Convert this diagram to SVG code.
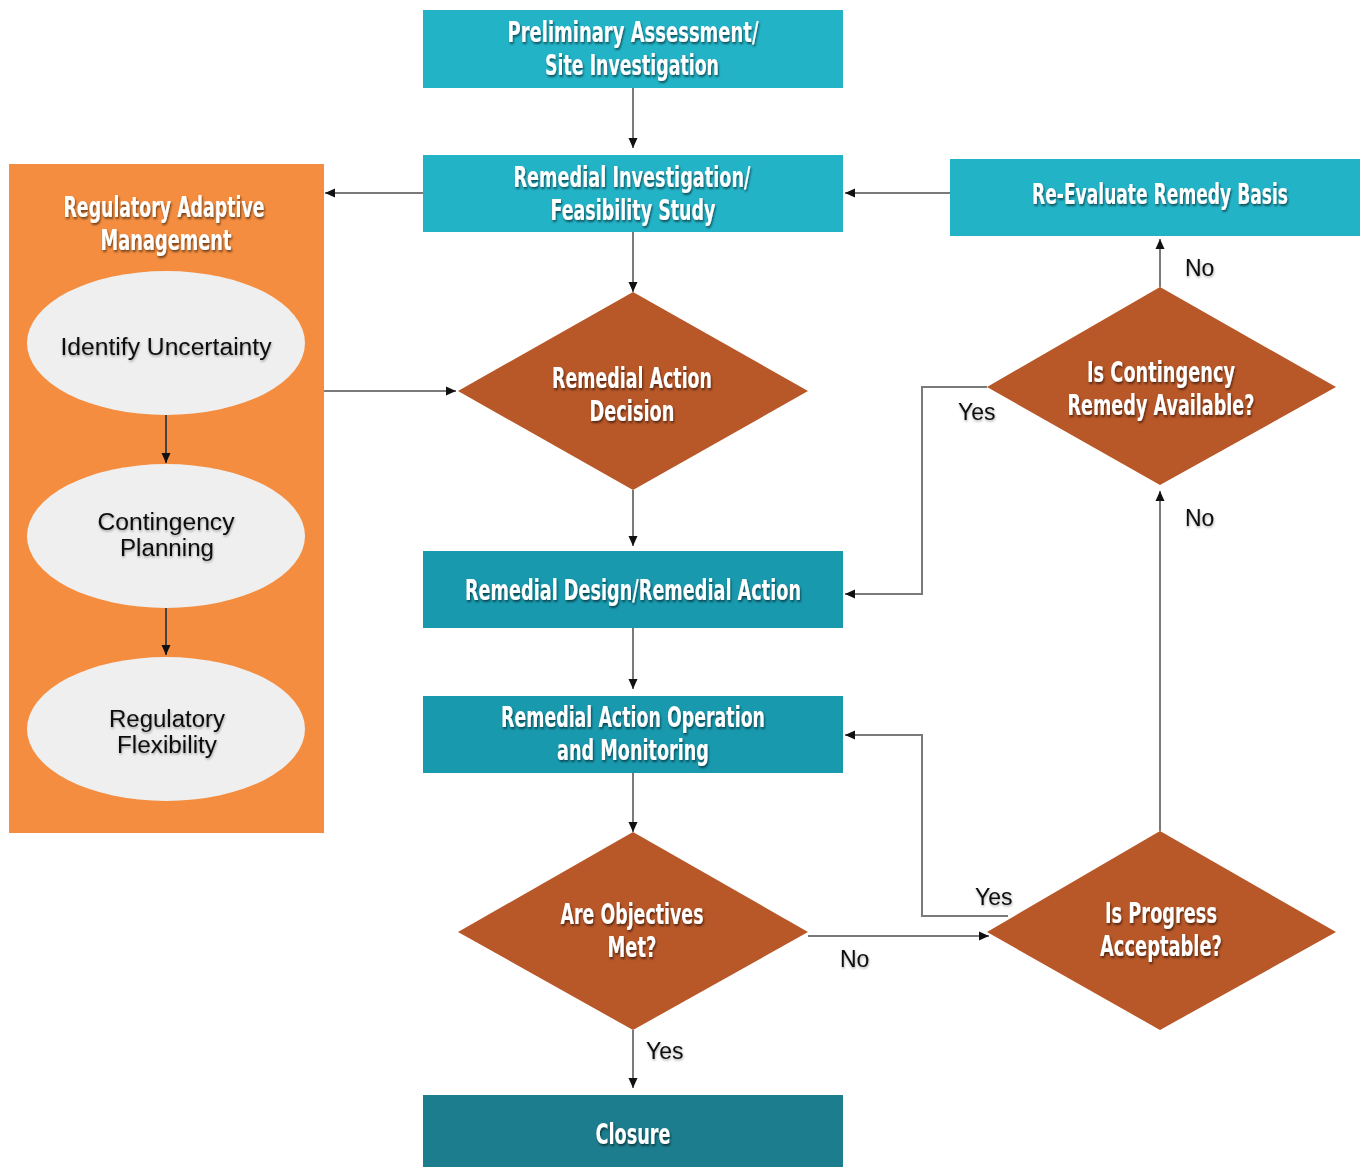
<svg xmlns="http://www.w3.org/2000/svg" width="1360" height="1167" viewBox="0 0 1360 1167">
<defs>
<style>
.bx{fill:#23b3c7}
.bx2{fill:#1899ae}
.bx3{fill:#1b7d8d}
.dm{fill:#b85728}
.el{fill:#efefef}
.pn{fill:#f48d3f}
.t{font-family:"Liberation Sans Narrow","DejaVu Sans Condensed","Liberation Sans",sans-serif;font-weight:bold;font-size:28px;fill:#fff;text-anchor:middle;filter:url(#sh)}
.e{font-family:"Liberation Sans",Arial,sans-serif;font-size:23px;fill:#111;text-anchor:middle;filter:url(#sh2)}
.lb{font-family:"Liberation Sans",Arial,sans-serif;font-size:23px;fill:#111;filter:url(#sh2)}
.c{fill:none;stroke:#7a7a7a;stroke-width:2}
.ca{fill:none;stroke:#444;stroke-width:2}
</style>
<filter id="sh" x="-10%" y="-30%" width="120%" height="160%">
<feDropShadow dx="1" dy="2" stdDeviation="1" flood-color="#000" flood-opacity="0.55"/>
</filter>
<filter id="sh2" x="-10%" y="-30%" width="120%" height="160%">
<feDropShadow dx="0.5" dy="1.5" stdDeviation="1" flood-color="#000" flood-opacity="0.35"/>
</filter>
<marker id="ah" viewBox="0 0 10 10" refX="10" refY="5" markerWidth="10" markerHeight="10" markerUnits="userSpaceOnUse" orient="auto">
<path d="M0,0.5 L10,5 L0,9.5 z" fill="#111"/>
</marker>
</defs>
<rect width="1360" height="1167" fill="#fff"/>

<g id="n-pa">
<rect class="bx" x="423" y="10" width="420" height="78"/>
<text class="t" x="633" y="42" textLength="251" lengthAdjust="spacingAndGlyphs">Preliminary Assessment/</text>
<text class="t" x="632" y="75" textLength="174" lengthAdjust="spacingAndGlyphs">Site Investigation</text>
</g>

<g id="n-rifs">
<rect class="bx" x="423" y="155" width="420" height="77"/>
<text class="t" x="632" y="187" textLength="237" lengthAdjust="spacingAndGlyphs">Remedial Investigation/</text>
<text class="t" x="633" y="220" textLength="165" lengthAdjust="spacingAndGlyphs">Feasibility Study</text>
</g>

<g id="n-reeval">
<rect class="bx" x="950" y="159" width="410" height="77"/>
<text class="t" x="1160" y="204" textLength="256" lengthAdjust="spacingAndGlyphs">Re-Evaluate Remedy Basis</text>
</g>

<g id="n-ram">
<rect class="pn" x="9" y="164" width="315" height="669"/>
<text class="t" x="164" y="217" textLength="201" lengthAdjust="spacingAndGlyphs">Regulatory Adaptive</text>
<text class="t" x="166" y="250" textLength="131" lengthAdjust="spacingAndGlyphs">Management</text>
</g>

<g id="n-iu">
<ellipse class="el" cx="166" cy="343" rx="139" ry="72"/>
<text class="e" x="166" y="355" textLength="211" lengthAdjust="spacingAndGlyphs">Identify Uncertainty</text>
</g>

<g id="n-cp">
<ellipse class="el" cx="166" cy="536" rx="139" ry="72"/>
<text class="e" x="166" y="530" textLength="137" lengthAdjust="spacingAndGlyphs">Contingency</text>
<text class="e" x="167" y="556" textLength="94" lengthAdjust="spacingAndGlyphs">Planning</text>
</g>

<g id="n-rf">
<ellipse class="el" cx="166" cy="729" rx="139" ry="72"/>
<text class="e" x="167" y="727" textLength="116" lengthAdjust="spacingAndGlyphs">Regulatory</text>
<text class="e" x="167" y="753" textLength="100" lengthAdjust="spacingAndGlyphs">Flexibility</text>
</g>

<g id="n-rad">
<polygon class="dm" points="633,292 808,391 633,490 458,391"/>
<text class="t" x="632" y="388" textLength="160" lengthAdjust="spacingAndGlyphs">Remedial Action</text>
<text class="t" x="632" y="421" textLength="85" lengthAdjust="spacingAndGlyphs">Decision</text>
</g>

<g id="n-rdra">
<rect class="bx2" x="423" y="551" width="420" height="77"/>
<text class="t" x="633" y="600" textLength="336" lengthAdjust="spacingAndGlyphs">Remedial Design/Remedial Action</text>
</g>

<g id="n-raom">
<rect class="bx2" x="423" y="696" width="420" height="77"/>
<text class="t" x="633" y="727" textLength="264" lengthAdjust="spacingAndGlyphs">Remedial Action Operation</text>
<text class="t" x="633" y="760" textLength="152" lengthAdjust="spacingAndGlyphs">and Monitoring</text>
</g>

<g id="n-aom">
<polygon class="dm" points="633,832 808,932 633,1030 458,932"/>
<text class="t" x="632" y="924" textLength="143" lengthAdjust="spacingAndGlyphs">Are Objectives</text>
<text class="t" x="632" y="957" textLength="49" lengthAdjust="spacingAndGlyphs">Met?</text>
</g>

<g id="n-closure">
<rect class="bx3" x="423" y="1095" width="420" height="72"/>
<text class="t" x="633" y="1144" textLength="75" lengthAdjust="spacingAndGlyphs">Closure</text>
</g>

<g id="n-icra">
<polygon class="dm" points="1160,287 1336,387 1160,485 987,387"/>
<text class="t" x="1161" y="382" textLength="148" lengthAdjust="spacingAndGlyphs">Is Contingency</text>
<text class="t" x="1161" y="415" textLength="187" lengthAdjust="spacingAndGlyphs">Remedy Available?</text>
</g>

<g id="n-ipa">
<polygon class="dm" points="1160,831 1336,932 1160,1030 987,932"/>
<text class="t" x="1161" y="923" textLength="112" lengthAdjust="spacingAndGlyphs">Is Progress</text>
<text class="t" x="1161" y="956" textLength="122" lengthAdjust="spacingAndGlyphs">Acceptable?</text>
</g>

<g id="connectors">
<path class="c" d="M633,88 V148" marker-end="url(#ah)"/>
<path class="c" d="M633,232 V292" marker-end="url(#ah)"/>
<path class="c" d="M423,193 H325" marker-end="url(#ah)"/>
<path class="c" d="M950,193 H845" marker-end="url(#ah)"/>
<path class="c" d="M324,391 H456" marker-end="url(#ah)"/>
<path class="ca" d="M166,415 V463" marker-end="url(#ah)"/>
<path class="ca" d="M166,608 V655" marker-end="url(#ah)"/>
<path class="c" d="M633,490 V546" marker-end="url(#ah)"/>
<path class="c" d="M633,628 V689" marker-end="url(#ah)"/>
<path class="c" d="M633,773 V832" marker-end="url(#ah)"/>
<path class="c" d="M633,1030 V1088" marker-end="url(#ah)"/>
<path class="c" d="M808,936 H989" marker-end="url(#ah)"/>
<path class="c" d="M1160,831 V491" marker-end="url(#ah)"/>
<path class="c" d="M1160,287 V239" marker-end="url(#ah)"/>
<path class="c" d="M987,387 H922 V594 H845" marker-end="url(#ah)"/>
<path class="c" d="M1008,916 H922 V735 H845" marker-end="url(#ah)"/>
<text class="lb" x="1185" y="276">No</text>
<text class="lb" x="958" y="420">Yes</text>
<text class="lb" x="1185" y="526">No</text>
<text class="lb" x="975" y="905">Yes</text>
<text class="lb" x="840" y="967">No</text>
<text class="lb" x="646" y="1059">Yes</text>
</g>
</svg>
